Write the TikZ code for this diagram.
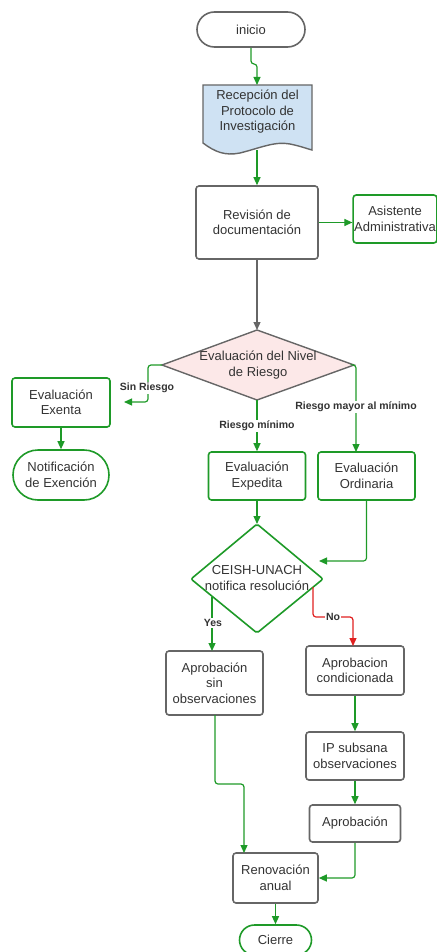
\documentclass[tikz,border=0pt]{standalone}
\usepackage{fontspec}
\setmainfont{Liberation Sans}
\usetikzlibrary{arrows.meta,shapes.misc}
\definecolor{grn}{HTML}{1E9A28}
\definecolor{gry}{HTML}{666666}
\definecolor{txt}{HTML}{333333}
\definecolor{docblue}{HTML}{CFE2F3}
\definecolor{dpink}{HTML}{FCE8E8}
\definecolor{redl}{HTML}{E02020}
\tikzset{
  base/.style={font=\fontsize{13}{15.5}\selectfont, text=txt, align=center, inner sep=1pt},
  gbox/.style={base, draw=grn, line width=1.6pt, rounded corners=3pt},
  kbox/.style={base, draw=gry, line width=1.6pt, rounded corners=3pt},
  gterm/.style={base, draw=grn, line width=1.6pt, rounded rectangle},
  kterm/.style={base, draw=gry, line width=1.6pt, rounded rectangle},
  garrow/.style={draw=grn, line width=1.2pt, -{Triangle[length=8pt,width=7pt]}, rounded corners=3pt},
  karrow/.style={draw=gry, line width=1.2pt, -{Triangle[length=8pt,width=7pt]}},
  rarrow/.style={draw=redl, line width=1.2pt, -{Triangle[length=8pt,width=7pt]}, rounded corners=3pt},
  lbl/.style={font=\bfseries\fontsize{10.5}{12}\selectfont, text=txt, fill=white, inner sep=1pt}
}
\begin{document}
\begin{tikzpicture}[x=1pt,y=-1pt]
\useasboundingbox (0,0) rectangle (436,952);
% inicio
\node[kterm, minimum width=110pt, minimum height=35pt] (inicio) at (251,29.5) {inicio};
% document shape
\draw[draw=gry, fill=docblue, line width=1.4pt]
  (203,85) -- (312,85) -- (312,150)
  .. controls (308,149) and (300,146) .. (290,144)
  .. controls (275,141) and (260,148) .. (240,153)
  .. controls (225,156) and (215,152) .. (203,143) -- cycle;
\node[base] (rec) at (257.5,112) {Recepción del\\Protocolo de\\Investigación};
\coordinate (recb) at (257,150);
% revision
\node[kbox, minimum width=122pt, minimum height=73pt] (rev) at (257,222.5) {Revisión de\\documentación};
\node[gbox, minimum width=82pt, minimum height=48pt] (asis) at (395,219) {Asistente\\Administrativa};
% diamond 1
\coordinate (d1t) at (257,330);
\coordinate (d1r) at (354,365);
\coordinate (d1b) at (257,400);
\coordinate (d1l) at (162,365);
\draw[draw=gry, fill=dpink, line width=1.4pt] (d1t) -- (d1r) -- (d1b) -- (d1l) -- cycle;
\node[base] (eval) at (258,365) {Evaluación del Nivel\\de Riesgo};
% left branch
\node[gbox, minimum width=98pt, minimum height=49pt] (exenta) at (61,402.5) {Evaluación\\Exenta};
\node[gterm, minimum width=98pt, minimum height=50pt] (notif) at (61,475) {Notificación\\de Exención};
% middle
\node[gbox, minimum width=97pt, minimum height=48pt] (exped) at (257,476) {Evaluación\\Expedita};
\node[gbox, minimum width=97pt, minimum height=48pt] (ordin) at (366.5,476) {Evaluación\\Ordinaria};
% diamond 2
\coordinate (d2t) at (257,524);
\coordinate (d2r) at (323,579);
\coordinate (d2b) at (257,633);
\coordinate (d2l) at (191,579);
\draw[draw=grn, fill=white, line width=1.6pt, rounded corners=2pt] (d2t) -- (d2r) -- (d2b) -- (d2l) -- cycle;
\node[base] (ceish) at (257,578) {CEISH-UNACH\\notifica resolución};
% lower nodes
\node[kbox, minimum width=97pt, minimum height=64pt] (sinobs) at (214.5,683) {Aprobación\\sin\\observaciones};
\node[kbox, minimum width=98pt, minimum height=49pt] (cond) at (355,670.5) {Aprobacion\\condicionada};
\node[kbox, minimum width=98pt, minimum height=48pt] (ip) at (355,756) {IP subsana\\observaciones};
\node[kbox, minimum width=91pt, minimum height=37pt] (aprob) at (355,823.5) {Aprobación};
\node[kbox, minimum width=85pt, minimum height=50pt] (renov) at (275.5,878) {Renovación\\anual};
\node[gterm, minimum width=74pt, minimum height=30pt] (cierre) at (275.5,940) {Cierre};
% connectors
\draw[garrow] (inicio.south) -- (251,64) -- (257,64) -- (257,85);
\draw[garrow] (recb) -- (rev.north);
\draw[garrow] (rev.east) -- (asis.west |- rev.east);
\draw[karrow] (rev.south) -- (d1t);
\coordinate (sinend) at (124,402);
\draw[garrow] (d1l) -- (148,365) -- (148,402) -- (sinend);
\node[lbl] at (147,388) {Sin Riesgo};
\draw[garrow] (d1b) -- (d1b |- exped.north);
\node[lbl] at (257,426) {Riesgo mínimo};
\draw[garrow] (d1r) -- (356,365) -- (356,452);
\node[lbl] at (356,407) {Riesgo mayor al mínimo};
\draw[garrow] (exenta.south) -- (notif.north);
\draw[garrow] (exped.south) -- (d2t);
\coordinate (ordend) at (319,561);
\draw[garrow] (ordin.south) -- (366.5,561) -- (ordend);
\coordinate (yesst) at (212,597);
\draw[garrow] (yesst) -- (212,651);
\node[lbl] at (213,623) {Yes};
\coordinate (nost) at (313,587);
\draw[rarrow] (nost) -- (313,617) -- (353,617) -- (353,646);
\node[lbl] at (333,617) {No};
\draw[garrow] (cond.south) -- (ip.north);
\draw[garrow] (ip.south) -- (aprob.north);
\draw[garrow] (215,715) -- (215,784) -- (244,784) -- (244,853);
\draw[garrow] (aprob.south) -- (355,878) -- (renov.east);
\draw[garrow] (renov.south) -- (cierre.north);
\end{tikzpicture}
\end{document}
